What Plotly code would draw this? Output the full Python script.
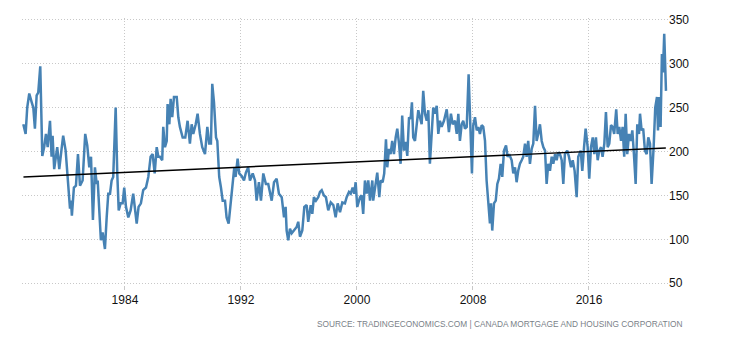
import plotly.graph_objects as go

# Canada housing starts (thousand units, SAAR)
years = [
 1976.99,1977.15,1977.26,1977.40,1977.57,1977.68,1977.79,1977.91,1978.02,1978.16,1978.30,1978.43,1978.55,1978.67,1978.83,1978.94,
 1979.01,1979.12,1979.33,1979.47,1979.63,1979.74,1979.91,1980.09,1980.21,1980.28,1980.34,1980.48,1980.62,1980.76,1980.90,
 1981.08,1981.26,1981.40,1981.54,1981.66,1981.74,1981.79,1981.93,1982.05,1982.12,1982.23,1982.34,1982.46,1982.62,1982.74,1982.85,1982.97,
 1983.08,1983.19,1983.36,1983.47,1983.57,1983.70,1983.84,1983.95,1984.07,1984.23,1984.39,1984.57,1984.69,1984.81,1984.94,
 1985.10,1985.26,1985.45,1985.61,1985.77,1985.91,1986.05,1986.19,1986.30,1986.41,1986.57,1986.64,1986.76,1986.88,1986.94,
 1987.06,1987.15,1987.26,1987.38,1987.57,1987.68,1987.79,1987.98,1988.16,1988.32,1988.48,1988.60,1988.71,1988.88,
 1989.01,1989.17,1989.33,1989.52,1989.68,1989.81,1989.93,1990.02,1990.14,1990.28,1990.37,1990.50,1990.62,1990.74,1990.90,
 1991.01,1991.15,1991.29,1991.40,1991.54,1991.63,1991.77,1991.88,1992.05,1992.21,1992.34,1992.50,1992.62,1992.81,1992.97,
 1993.08,1993.24,1993.38,1993.54,1993.72,1993.88,1994.12,1994.28,1994.46,1994.62,1994.81,1994.97,
 1995.08,1995.15,1995.26,1995.38,1995.50,1995.66,1995.84,1995.95,1996.07,1996.23,1996.37,1996.53,1996.64,1996.81,1996.92,
 1997.03,1997.17,1997.33,1997.45,1997.57,1997.72,1997.86,1998.02,1998.19,1998.37,1998.53,1998.67,1998.83,1998.99,
 1999.17,1999.29,1999.45,1999.57,1999.70,1999.81,1999.91,2000.02,2000.21,2000.32,2000.43,2000.55,2000.67,2000.78,2000.90,
 2001.06,2001.12,2001.29,2001.40,2001.54,2001.63,2001.77,2001.88,2002.00,2002.09,2002.21,2002.32,2002.43,2002.55,2002.67,2002.78,2002.90,
 2003.01,2003.12,2003.24,2003.36,2003.47,2003.59,2003.70,2003.79,2003.88,2004.00,2004.12,2004.23,2004.34,2004.46,2004.57,2004.69,2004.81,2004.92,
 2005.03,2005.15,2005.26,2005.38,2005.50,2005.61,2005.72,2005.84,2006.00,2006.19,2006.34,2006.48,2006.60,2006.76,2006.88,2006.99,
 2007.10,2007.22,2007.33,2007.45,2007.57,2007.70,2007.79,2007.93,2008.02,2008.14,2008.26,2008.37,2008.48,2008.60,2008.71,2008.83,2008.94,
 2009.06,2009.17,2009.24,2009.33,2009.45,2009.57,2009.68,2009.79,2009.91,2010.02,2010.14,2010.28,2010.39,2010.50,2010.67,2010.78,2010.90,
 2011.01,2011.12,2011.24,2011.36,2011.47,2011.59,2011.70,2011.81,2011.93,2012.05,2012.16,2012.28,2012.39,2012.50,2012.62,2012.74,2012.85,2012.97,
 2013.08,2013.19,2013.31,2013.43,2013.54,2013.66,2013.77,2013.88,2014.00,2014.12,2014.23,2014.34,2014.50,2014.62,2014.76,2014.88,
 2015.01,2015.15,2015.26,2015.43,2015.54,2015.66,2015.77,2015.91,2016.02,2016.14,2016.26,2016.37,2016.48,2016.60,2016.71,2016.83,2016.94,
 2017.06,2017.17,2017.29,2017.40,2017.52,2017.63,2017.74,2017.88,2017.98,2018.09,2018.21,2018.32,2018.43,2018.53,2018.64,2018.76,2018.88,2018.99,
 2019.10,2019.22,2019.33,2019.45,2019.52,2019.63,2019.74,2019.86,2019.98,2020.09,2020.21,2020.32,2020.46,2020.57,2020.69,2020.76,2020.85,2020.94,
 2021.03,2021.10,2021.19,2021.31,
]
starts = [
 231,220,250,266,256,250,226,264,267,297,195,205,220,205,235,194,
 218,180,205,180,203,218,201,167,135,144,127,159,161,197,161,
 167,220,207,182,194,159,122,182,163,167,137,99,108,89,125,152,152,
 167,171,250,175,133,141,141,159,137,125,133,152,133,118,137,
 141,156,159,171,194,197,175,205,194,194,190,228,205,212,254,
 231,260,239,262,262,239,228,216,216,235,209,231,220,231,
 243,220,205,197,228,209,209,277,256,216,212,171,159,144,144,
 125,118,144,156,182,171,192,175,172,167,176,182,167,175,167,
 144,165,144,175,163,163,144,165,169,152,148,125,
 137,110,99,112,107,110,114,120,103,110,137,139,120,139,129,
 148,144,148,154,156,150,148,133,142,139,125,141,131,142,
 141,148,154,152,159,152,165,137,148,150,129,167,152,167,144,
 167,144,165,176,148,167,165,175,214,182,203,197,212,197,216,226,209,
 186,241,201,211,195,239,237,256,216,212,235,247,239,231,269,243,235,247,
 186,216,250,243,252,220,235,228,235,248,222,243,231,235,220,243,
 212,231,235,226,228,288,235,175,230,239,224,228,220,230,228,212,167,
 137,118,141,110,141,144,163,169,186,171,201,207,194,197,190,175,182,
 165,178,186,190,194,209,194,212,186,203,209,252,212,220,231,212,205,201,
 163,186,178,194,186,197,190,199,197,190,163,197,201,194,182,190,
 178,148,194,201,178,205,226,205,169,205,216,197,216,190,201,205,194,
 209,245,205,209,230,228,220,248,220,228,212,228,194,243,197,220,212,224,
 197,163,231,220,243,224,226,201,197,216,209,163,205,250,262,224,262,228,
 311,290,334,269,
]

# long-term trend line endpoints
trend_years = [1977.0, 2021.3]
trend_values = [171, 204]

x_ticks = [1984, 1992, 2000, 2008, 2016]
y_ticks = [50, 100, 150, 200, 250, 300, 350]

fig = go.Figure()
fig.add_trace(go.Scatter(x=years, y=starts, mode="lines",
                         line=dict(color="#4682B4", width=2.5), hoverinfo="skip"))
fig.add_trace(go.Scatter(x=trend_years, y=trend_values, mode="lines",
                         line=dict(color="#000000", width=1.4), hoverinfo="skip"))

grid = "#c8c8c8"
fig.update_layout(
    width=730, height=340,
    margin=dict(l=22, r=62, t=18, b=55),
    paper_bgcolor="white", plot_bgcolor="white",
    showlegend=False,
    font=dict(family="Arial, Liberation Sans, sans-serif", size=12, color="#111"),
    xaxis=dict(range=[1976.9, 2021.45], tickmode="array", tickvals=x_ticks,
               ticktext=[str(t) for t in x_ticks],
               showgrid=True, gridcolor=grid, griddash="1px,2px", gridwidth=1,
               ticks="outside", ticklen=4, tickcolor=grid,
               showline=False, zeroline=False,
               tickfont=dict(size=12, color="#111")),
    yaxis=dict(range=[48, 352], side="right", tickmode="array", tickvals=y_ticks,
               showgrid=True, gridcolor=grid, griddash="1px,2px", gridwidth=1,
               ticks="", showline=False, zeroline=False,
               tickfont=dict(size=12, color="#111")),
)

fig.add_annotation(text="SOURCE: TRADINGECONOMICS.COM | CANADA MORTGAGE AND HOUSING CORPORATION",
                   xref="paper", yref="paper", x=(684 - 22) / 646, y=(340 - 55 - 324) / 267,
                   xanchor="right", yanchor="middle", showarrow=False,
                   font=dict(size=8.3, color="#7a7f88"))

fig.write_html("out.html")
